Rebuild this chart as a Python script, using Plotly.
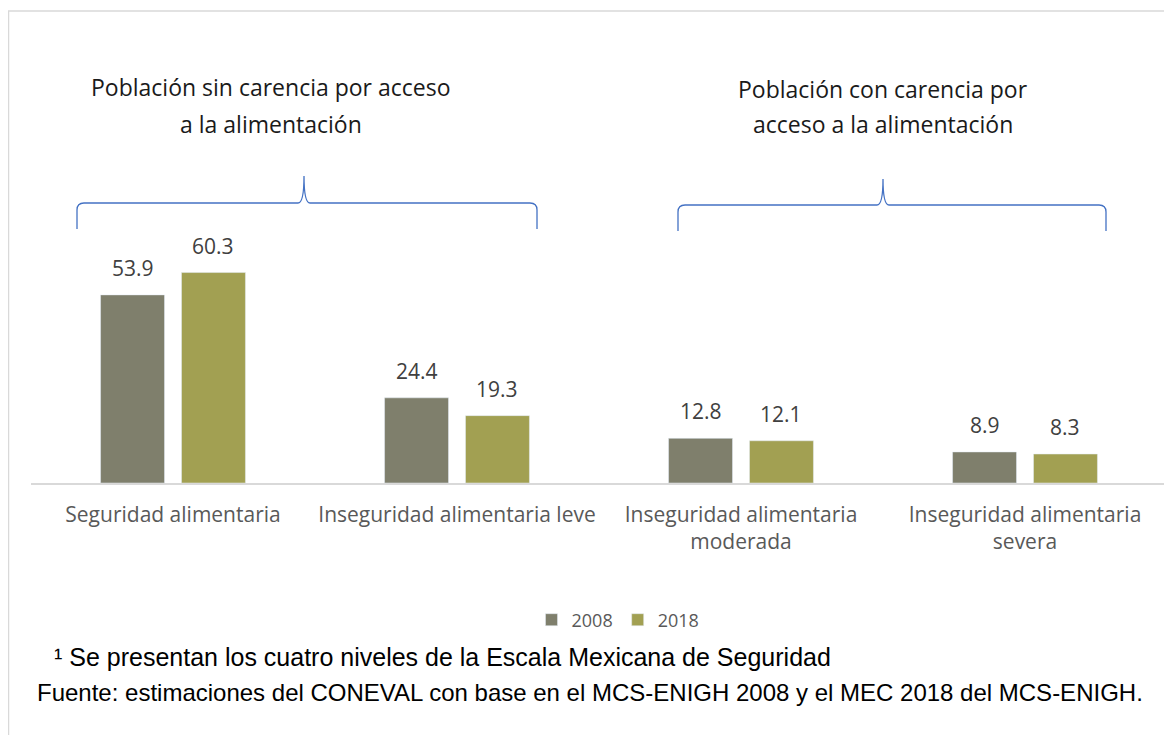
import plotly.graph_objects as go

# The page body adds an 8px margin, so reference pixel coordinates are shifted by OFF.
OFF = 8
W, H = 1164, 727

categories = ["Seguridad alimentaria", "Inseguridad alimentaria leve",
              "Inseguridad alimentaria<br>moderada", "Inseguridad alimentaria<br>severa"]
values_2008 = [53.9, 24.4, 12.8, 8.9]
values_2018 = [60.3, 19.3, 12.1, 8.3]
series_names = ["2008", "2018"]
colors = ["#7F7F6C", "#A2A052"]

group_titles = [["Población sin carencia por acceso", "a la alimentación"],
                ["Población con carencia por", "acceso a la alimentación"]]
note = "¹ Se presentan los cuatro niveles de la Escala Mexicana de Seguridad"
source = "Fuente: estimaciones del CONEVAL con base en el MCS-ENIGH 2008 y el MEC 2018 del MCS-ENIGH."


def px(x, y):
    return (x - OFF) / W, 1 - (y - OFF) / H


def pstr(x, y):
    a, b = px(x, y)
    return f"{a:.5f},{b:.5f}"


fig = go.Figure()
for name, vals, col in zip(series_names, [values_2008, values_2018], colors):
    fig.add_trace(go.Bar(x=categories, y=vals, name=name, marker_color=col))

x0d, _ = px(31, 0)
x1d, _ = px(1167, 0)
_, ybot = px(0, 483)
_, ytop = px(0, 11)
yrange_top = (483 - 11) / 3.49
cat_w = 1136 / len(categories)
bargap, bargroupgap = 0.43, 0.21
slot = cat_w * (1 - bargap) / 2

fig.update_layout(
    width=W, height=H, margin=dict(l=0, r=0, t=0, b=0),
    paper_bgcolor="white", plot_bgcolor="white",
    barmode="group", bargap=bargap, bargroupgap=bargroupgap,
    showlegend=True,
    legend=dict(orientation="h", x=px(618, 0)[0], xanchor="center", y=px(0, 620)[1], yanchor="middle",
                font=dict(family="Open Sans", size=18, color="#595959"),
                itemwidth=30, traceorder="normal"),
    xaxis=dict(domain=[x0d, x1d], showline=True, linecolor="#D9D9D9", linewidth=1.5,
               showgrid=False, ticks="", ticklabelstandoff=12,
               tickfont=dict(family="Open Sans", size=21, color="#595959")),
    yaxis=dict(domain=[ybot, ytop], range=[0, yrange_top], visible=False, showgrid=False),
)

shapes = []
shapes.append(dict(type="rect", xref="paper", yref="paper",
                   x0=px(8.5, 0)[0], x1=px(1200, 0)[0], y0=px(0, 780)[1], y1=px(0, 11)[1],
                   line=dict(color="#D9D9D9", width=1.5), layer="below"))


def brace(xl, xr, xt, yh, ytip, ybot_):
    r = 7
    d = (f"M {pstr(xl, ybot_)} L {pstr(xl, yh + r)} Q {pstr(xl, yh)} {pstr(xl + r, yh)} "
         f"L {pstr(xt - 6, yh)} Q {pstr(xt, yh)} {pstr(xt, ytip)} "
         f"Q {pstr(xt, yh)} {pstr(xt + 6, yh)} L {pstr(xr - r, yh)} "
         f"Q {pstr(xr, yh)} {pstr(xr, yh + r)} L {pstr(xr, ybot_)}")
    return dict(type="path", xref="paper", yref="paper", path=d,
                line=dict(color="#4472C4", width=1.3))


shapes.append(brace(77, 537, 304, 203, 176, 229))
shapes.append(brace(678, 1106, 883, 205, 179, 231))
fig.update_layout(shapes=shapes)

ann = []
# data labels above each bar
for k, vals in enumerate([values_2008, values_2018]):
    xs = (k - 0.5) * slot
    for c, v in zip(categories, vals):
        ann.append(dict(text=f"{v:.1f}", x=c, y=v, xref="x", yref="y", showarrow=False,
                        xanchor="center", yanchor="bottom", xshift=xs, yshift=11,
                        font=dict(family="Open Sans", size=21, color="#404040")))

for lines, (cx, ys) in zip(group_titles, [(271, (87, 124)), (883, (89, 124))]):
    for t, cy in zip(lines, ys):
        ax, ay = px(cx, cy)
        ann.append(dict(text=t, x=ax, y=ay, xref="paper", yref="paper", showarrow=False,
                        xanchor="center", yanchor="middle",
                        font=dict(family="Open Sans", size=23, color="#1A1A1A")))
ax, ay = px(52, 657)
ann.append(dict(text=note, x=ax, y=ay, xref="paper", yref="paper", showarrow=False,
                xanchor="left", yanchor="middle",
                font=dict(family="Liberation Sans", size=25, color="#000000")))
ax, ay = px(35, 692)
ann.append(dict(text=source, x=ax, y=ay, xref="paper", yref="paper", showarrow=False,
                xanchor="left", yanchor="middle",
                font=dict(family="Liberation Sans", size=24, color="#000000")))
fig.update_layout(annotations=ann)

fig.write_html("out.html")
